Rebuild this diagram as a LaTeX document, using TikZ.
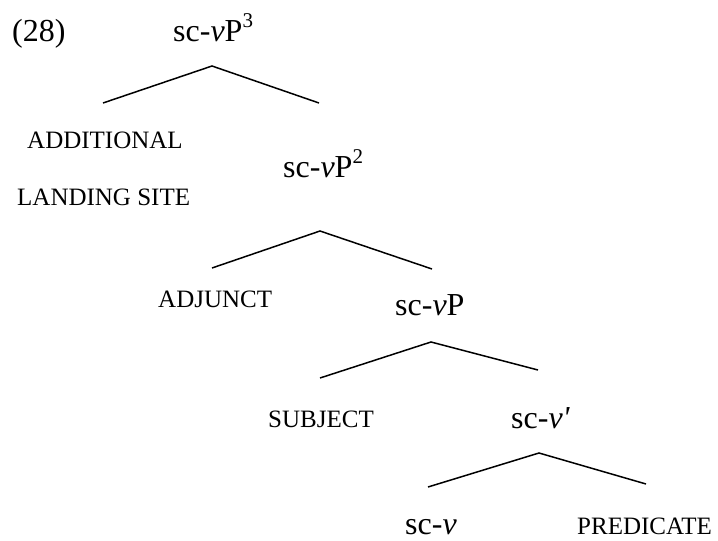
\documentclass[tikz,border=0pt]{standalone}
\usepackage{fontspec}
\setmainfont{Liberation Serif}
\newcommand{\labfont}{\fontsize{32}{38}\selectfont}
\newcommand{\capsfont}{\fontsize{25}{30}\selectfont}
\newcommand{\supnum}[1]{\raisebox{0.42em}{\fontsize{21}{24}\selectfont #1}}
\begin{document}
\begin{tikzpicture}[x=1pt,y=-1pt,
  lab/.style={inner sep=0pt,anchor=base west,font=\labfont},
  capword/.style={inner sep=0pt,anchor=base west,font=\capsfont},
  branch/.style={line width=1.5pt,line join=miter}]
\useasboundingbox (0,0) rectangle (718,541);
% example number
\node[lab] (num) at (12,41) {(28)};
% level 1
\node[lab] (vp3) at (173,41) {sc-\textit{v}P\supnum{3}};
\coordinate (a1) at (212,66);
\coordinate (l1) at (103,103);
\coordinate (r1) at (319,103);
\draw[branch] (l1) -- (a1) -- (r1);
\node[capword] (add) at (27,148) {ADDITIONAL};
\node[capword] (land) at (17,205) {LANDING SITE};
% level 2
\node[lab] (vp2) at (283,177) {sc-\textit{v}P\supnum{2}};
\coordinate (a2) at (320,231);
\coordinate (l2) at (212,268);
\coordinate (r2) at (432,269);
\draw[branch] (l2) -- (a2) -- (r2);
\node[capword] (adj) at (158,307) {ADJUNCT};
% level 3
\node[lab] (vp) at (395,315) {sc-\textit{v}P};
\coordinate (a3) at (431,342);
\coordinate (l3) at (320,378);
\coordinate (r3) at (538,370);
\draw[branch] (l3) -- (a3) -- (r3);
\node[capword] (subj) at (268,427) {SUBJECT};
% level 4
\node[lab] (vbar) at (511,428) {sc-\textit{v\textquotesingle}};
\coordinate (a4) at (539,453);
\coordinate (l4) at (428,487);
\coordinate (r4) at (646,484);
\draw[branch] (l4) -- (a4) -- (r4);
\node[lab] (v) at (405,534) {sc-\textit{v}};
\node[capword] (pred) at (577,534) {PREDICATE};
\end{tikzpicture}
\end{document}
